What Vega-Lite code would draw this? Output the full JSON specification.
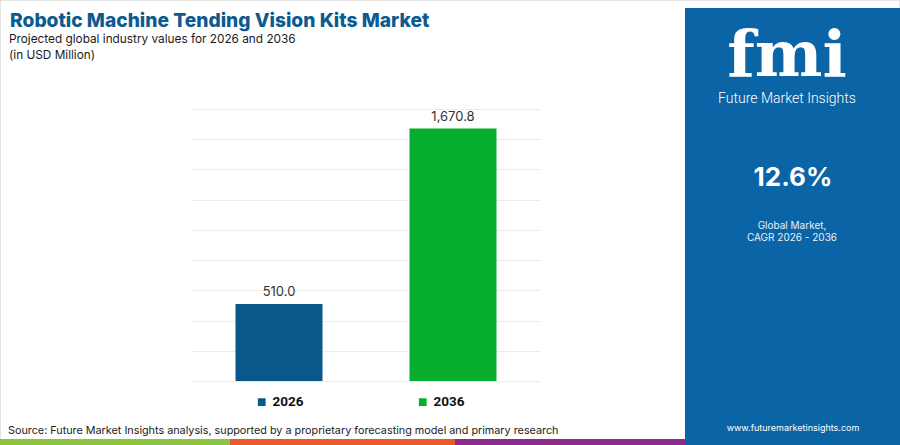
{
  "$schema": "https://vega.github.io/schema/vega-lite/v6.json",
  "description": "Robotic Machine Tending Vision Kits Market, 2026 vs 2036",
  "width": 900,
  "height": 445,
  "autosize": "none",
  "padding": 0,
  "background": "#ffffff",
  "config": {
    "view": {"stroke": null},
    "font": "Inter"
  },
  "layer": [
    {
      "data": {"values": [{}]},
      "mark": {"type": "rect", "x": 0, "x2": 900, "y": 0, "y2": 445, "fill": null, "stroke": "#dcdcdc", "strokeWidth": 1.5},
      "encoding": {}
    },
    {
      "data": {"values": [{}]},
      "mark": {"type": "rect", "x": 685, "x2": 900, "y": 8, "y2": 445, "fill": "#0b64a6"},
      "encoding": {}
    },
    {
      "data": {"values": [{}]},
      "mark": {"type": "rule", "x": 0, "x2": 685, "y": 95, "y2": 95, "stroke": "#1c6fae", "strokeWidth": 4},
      "encoding": {}
    },
    {
      "data": {"values": [{}]},
      "mark": {"type": "rect", "x": 0, "x2": 230, "y": 439, "y2": 445, "fill": "#8cc43f"},
      "encoding": {}
    },
    {
      "data": {"values": [{}]},
      "mark": {"type": "rect", "x": 230, "x2": 455, "y": 439, "y2": 445, "fill": "#ec5a2a"},
      "encoding": {}
    },
    {
      "data": {"values": [{}]},
      "mark": {"type": "rect", "x": 455, "x2": 685, "y": 439, "y2": 445, "fill": "#8e2a8b"},
      "encoding": {}
    },
    {
      "data": {"values": [{}]},
      "mark": {"type": "text", "x": 10, "y": 27, "text": "Robotic Machine Tending Vision Kits Market", "align": "left", "baseline": "alphabetic", "fontSize": 19.2, "fontWeight": 800, "color": "#0d5a8f"}
    },
    {
      "data": {"values": [{}]},
      "mark": {"type": "text", "x": 9, "y": 43, "text": "Projected global industry values for 2026 and 2036", "align": "left", "baseline": "alphabetic", "fontSize": 11.8, "color": "#1a1a1a"}
    },
    {
      "data": {"values": [{}]},
      "mark": {"type": "text", "x": 9, "y": 59, "text": "(in USD Million)", "align": "left", "baseline": "alphabetic", "fontSize": 11.8, "color": "#1a1a1a"}
    },
    {
      "data": {"values": [{}]},
      "mark": {"type": "text", "x": 8, "y": 434, "text": "Source: Future Market Insights analysis, supported by a proprietary forecasting model and primary research", "align": "left", "baseline": "alphabetic", "fontSize": 10.8, "color": "#222222"}
    },
    {
      "data": {"values": [{}]},
      "mark": {"type": "text", "x": 787, "y": 76, "text": "fmi", "align": "center", "baseline": "alphabetic", "font": "DejaVu Serif", "fontSize": 64, "fontWeight": "bold", "color": "#ffffff"}
    },
    {
      "data": {"values": [{}]},
      "mark": {"type": "text", "x": 787, "y": 103, "text": "Future Market Insights", "align": "center", "baseline": "alphabetic", "font": "Roboto", "fontSize": 14, "fontWeight": 300, "color": "#ffffff"}
    },
    {
      "data": {"values": [{}]},
      "mark": {"type": "text", "x": 793, "y": 186, "text": "12.6%", "align": "center", "baseline": "alphabetic", "fontSize": 26, "fontWeight": "bold", "color": "#ffffff"}
    },
    {
      "data": {"values": [{}]},
      "mark": {"type": "rule", "x": 704, "x2": 884, "y": 207, "y2": 207, "stroke": "#b9d3ea", "strokeWidth": 1.5},
      "encoding": {}
    },
    {
      "data": {"values": [{}]},
      "mark": {"type": "text", "x": 792, "y": 229, "text": "Global Market,", "align": "center", "baseline": "alphabetic", "fontSize": 10, "color": "#e8f0f8"}
    },
    {
      "data": {"values": [{}]},
      "mark": {"type": "text", "x": 792, "y": 241, "text": "CAGR 2026 - 2036", "align": "center", "baseline": "alphabetic", "fontSize": 10, "color": "#e8f0f8"}
    },
    {
      "data": {"values": [{}]},
      "mark": {"type": "text", "x": 793, "y": 431, "text": "www.futuremarketinsights.com", "align": "center", "baseline": "alphabetic", "fontSize": 9, "color": "#ffffff"}
    },
    {
      "data": {
        "values": [
          {"Year": "2026", "Value": 510.0},
          {"Year": "2036", "Value": 1670.8}
        ]
      },
      "encoding": {
        "x": {
          "field": "Year",
          "type": "nominal",
          "axis": null,
          "scale": {"type": "band", "range": [192, 540], "paddingInner": 0.5, "paddingOuter": 0.25}
        },
        "y": {
          "field": "Value",
          "type": "quantitative",
          "scale": {"domain": [0, 1800], "range": [381, 109], "nice": false},
          "axis": {
            "values": [0, 200, 400, 600, 800, 1000, 1200, 1400, 1600, 1800],
            "labels": false,
            "ticks": false,
            "domain": false,
            "title": null,
            "grid": true,
            "gridColor": "#ececec",
            "gridWidth": 1
          }
        }
      },
      "layer": [
        {
          "mark": {"type": "bar"},
          "encoding": {
            "color": {
              "field": "Year",
              "type": "nominal",
              "scale": {"domain": ["2026", "2036"], "range": ["#0a578b", "#07ad2e"]},
              "legend": {
                "orient": "none",
                "legendX": 255,
                "legendY": 395,
                "direction": "horizontal",
                "title": null,
                "symbolType": "square",
                "symbolSize": 60,
                "symbolStrokeWidth": 0,
                "labelFont": "Roboto",
                "labelFontSize": 13.5,
                "labelFontWeight": "bold",
                "labelColor": "#111111",
                "labelOffset": 4,
                "columnPadding": 112
              }
            }
          }
        },
        {
          "mark": {"type": "text", "baseline": "alphabetic", "dy": -8, "fontSize": 13, "color": "#333333"},
          "encoding": {
            "text": {"field": "Value", "type": "quantitative", "format": ",.1f"}
          }
        }
      ]
    }
  ]
}
